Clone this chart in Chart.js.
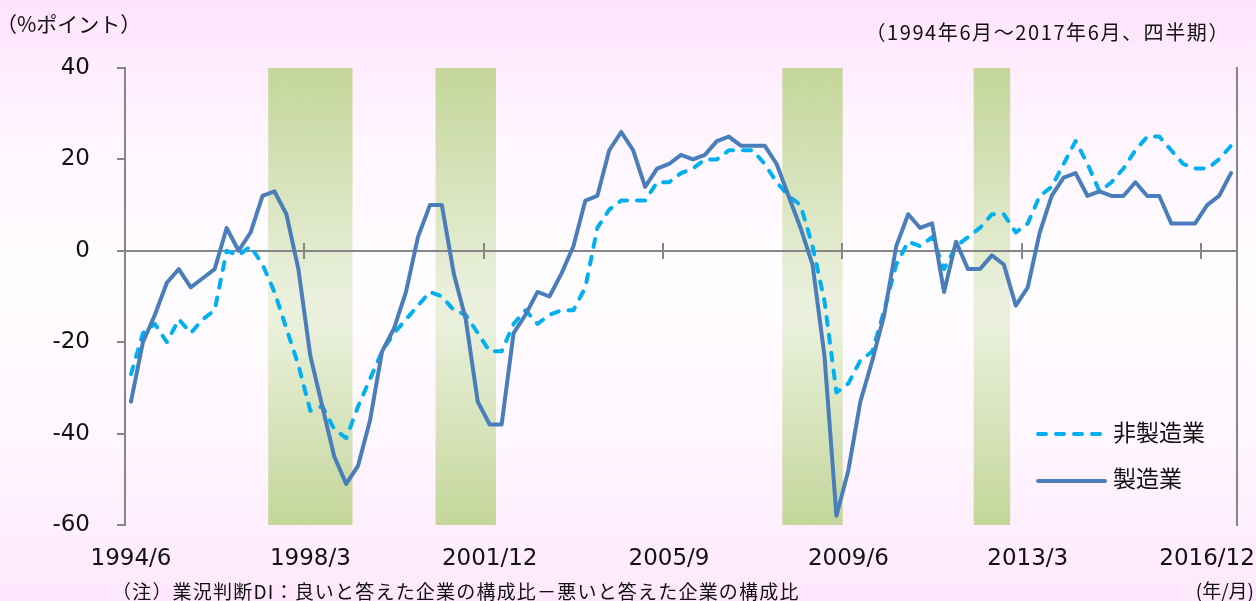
<!DOCTYPE html>
<html>
<head>
<meta charset="utf-8">
<script src="https://cdn.jsdelivr.net/npm/chart.js@4.4.1/dist/chart.umd.min.js"></script>
<style>
html,body{margin:0;padding:0;}
body{width:1256px;height:601px;overflow:hidden;position:relative;
  background:linear-gradient(to bottom,#ffe3fe 0%,#fff5ff 22%,#fffdff 45%,#fff8ff 70%,#ffe7fd 100%);
  font-family:"Noto Sans CJK JP","Noto Sans",sans-serif;color:#111;}
#c{position:absolute;left:0;top:0;}
.t{position:absolute;white-space:nowrap;line-height:1;}
svg{position:absolute;left:0;top:0;}
</style>
</head>
<body>
<canvas id="c" width="1256" height="601"></canvas>
<div class="t" style="left:-4px;top:13px;font-size:21px;">（%ポイント）</div>
<div class="t" style="right:26px;top:22px;font-size:20px;letter-spacing:1.6px;">（1994年6月～2017年6月、四半期）</div>
<div class="t" style="left:112px;top:581px;font-size:19px;letter-spacing:1.2px;">（注）業況判断DI：良いと答えた企業の構成比－悪いと答えた企業の構成比</div>
<div class="t" style="right:2px;top:580px;font-size:19px;">(年/月)</div>
<svg width="1256" height="601">
  <line x1="1038" y1="434" x2="1100" y2="434" stroke="#00b0f0" stroke-width="4" stroke-dasharray="8 10" stroke-linecap="round"/>
  <line x1="1038" y1="481" x2="1105" y2="481" stroke="#4a7ebb" stroke-width="4" stroke-linecap="round"/>
</svg>
<div class="t" style="left:1113px;top:420px;font-size:23px;">非製造業</div>
<div class="t" style="left:1113px;top:466px;font-size:23px;">製造業</div>
<script>
// ---- data ----
const startYear = 1994, startMonth = 6, quarterCount = 93;
const categories = [];
for (let i = 0; i < quarterCount; i++) {
  const m = startMonth + 3 * i;
  categories.push((startYear + Math.floor((m - 1) / 12)) + '/' + (((m - 1) % 12) + 1));
}
const tickLabels = ['1994/6', '1998/3', '2001/12', '2005/9', '2009/6', '2013/3', '2016/12'];
const yTickRange = [-60, 40];
const yTickStep = 20;

const nonManufacturing = [
  -27, -18, -16, -20, -15, -18, -15, -13, 0, -1,
  1, -3, -9, -17, -25, -35, -34, -39, -41, -34,
  -28, -22, -18, -15, -12, -9, -10, -13, -14, -18,
  -22, -22, -16, -13, -16, -14, -13, -13, -8, 5,
  9, 11, 11, 11, 15, 15, 17, 18, 20, 20,
  22, 22, 22, 19, 15, 12, 10, 1, -11, -31,
  -29, -24, -22, -13, -3, 2, 1, 3, -4, 1,
  3, 5, 8, 8, 4, 6, 12, 14, 19, 24,
  19, 13, 15, 18, 22, 25, 25, 22, 19, 18,
  18, 20, 23
];
const manufacturing = [
  -33, -20, -14, -7, -4, -8, -6, -4, 5, 0,
  4, 12, 13, 8, -4, -23, -34, -45, -51, -47,
  -37, -22, -17, -9, 3, 10, 10, -5, -15, -33,
  -38, -38, -18, -14, -9, -10, -5, 1, 11, 12,
  22, 26, 22, 14, 18, 19, 21, 20, 21, 24,
  25, 23, 23, 23, 19, 12, 5, -3, -23, -58,
  -48, -33, -24, -14, 1, 8, 5, 6, -9, 2,
  -4, -4, -1, -3, -12, -8, 4, 12, 16, 17,
  12, 13, 12, 12, 15, 12, 12, 6, 6, 6,
  10, 12, 17
];
// recession periods (first and last quarter)
const recessionStart = ['1997/6', '2000/12', '2008/3', '2012/3'];
const recessionEnd   = ['1998/12', '2001/12', '2009/3', '2012/9'];

// ---- derived ----
const bandData = categories.map((c, i) => {
  for (let k = 0; k < recessionStart.length; k++) {
    const a = categories.indexOf(recessionStart[k]), b = categories.indexOf(recessionEnd[k]);
    if (i >= a && i <= b) return [yTickRange[0], yTickRange[1]];
  }
  return null;
});

const axisDecor = {
  id: 'axisDecor',
  afterDatasetDraw(chart, args) {
    if (args.index !== 0) return;
    const {ctx, chartArea, scales: {x, y}} = chart;
    const y0 = Math.round(y.getPixelForValue(0));
    ctx.save();
    ctx.strokeStyle = '#868686';
    ctx.lineWidth = 2;
    ctx.beginPath();
    ctx.moveTo(chartArea.left, y0);
    ctx.lineTo(chartArea.right, y0);
    tickLabels.forEach(lab => {
      const i = categories.indexOf(lab);
      if (i <= 0) return;
      const px = Math.round((x.getPixelForValue(i - 1) + x.getPixelForValue(i)) / 2);
      ctx.moveTo(px, y0 - 8);
      ctx.lineTo(px, y0 + 8);
    });
    ctx.stroke();
    ctx.restore();
  }
};

const tickFont = {family: 'DejaVu Sans', size: 23};

new Chart(document.getElementById('c'), {
  type: 'line',
  data: {
    labels: categories,
    datasets: [
      {
        type: 'bar',
        label: '景気後退期',
        data: bandData,
        backgroundColor: (c) => {
          const ca = c.chart.chartArea;
          if (!ca) return '#c4d79b';
          const g = c.chart.ctx.createLinearGradient(0, ca.top, 0, ca.bottom);
          g.addColorStop(0, '#c4d69a');
          g.addColorStop(0.5, '#eaf0dc');
          g.addColorStop(0.56, '#eaf0dc');
          g.addColorStop(1, '#c4d69a');
          return g;
        },
        borderWidth: 0,
        barPercentage: 1,
        categoryPercentage: 1,
        order: 10
      },
      {
        label: '非製造業',
        data: nonManufacturing,
        borderColor: '#00b0f0',
        borderWidth: 4,
        borderDash: [8, 10],
        borderCapStyle: 'round',
        borderJoinStyle: 'round',
        pointRadius: 0,
        fill: false,
        tension: 0,
        order: 2
      },
      {
        label: '製造業',
        data: manufacturing,
        borderColor: '#4a7ebb',
        borderWidth: 4,
        borderCapStyle: 'round',
        borderJoinStyle: 'round',
        pointRadius: 0,
        fill: false,
        tension: 0,
        order: 1
      }
    ]
  },
  options: {
    responsive: false,
    animation: false,
    devicePixelRatio: 1,
    layout: {padding: {top: 68, left: 0, right: 0, bottom: 0}},
    plugins: {legend: {display: false}, tooltip: {enabled: false}},
    scales: {
      x: {
        type: 'category',
        offset: true,
        grid: {display: false, drawTicks: false},
        border: {display: false},
        ticks: {
          autoSkip: false, maxRotation: 0, minRotation: 0, padding: 20,
          color: '#111', font: tickFont,
          callback(v, i) { const l = categories[i]; return tickLabels.includes(l) ? l : ''; }
        },
        afterFit(s) { s.height = 76; }
      },
      y: {
        min: yTickRange[0], max: yTickRange[1],
        ticks: {stepSize: yTickStep, padding: 27, color: '#111', font: tickFont},
        grid: {drawOnChartArea: false, drawTicks: true, tickLength: 8, color: '#868686', lineWidth: 2},
        border: {display: true, color: '#868686', width: 2},
        afterFit(s) { s.width = 125; }
      },
      y2: {
        position: 'right',
        min: yTickRange[0], max: yTickRange[1],
        ticks: {display: false},
        grid: {display: false},
        border: {display: true, color: '#868686', width: 2},
        afterFit(s) { s.width = 19; }
      }
    }
  },
  plugins: [axisDecor]
});
</script>
</body>
</html>
